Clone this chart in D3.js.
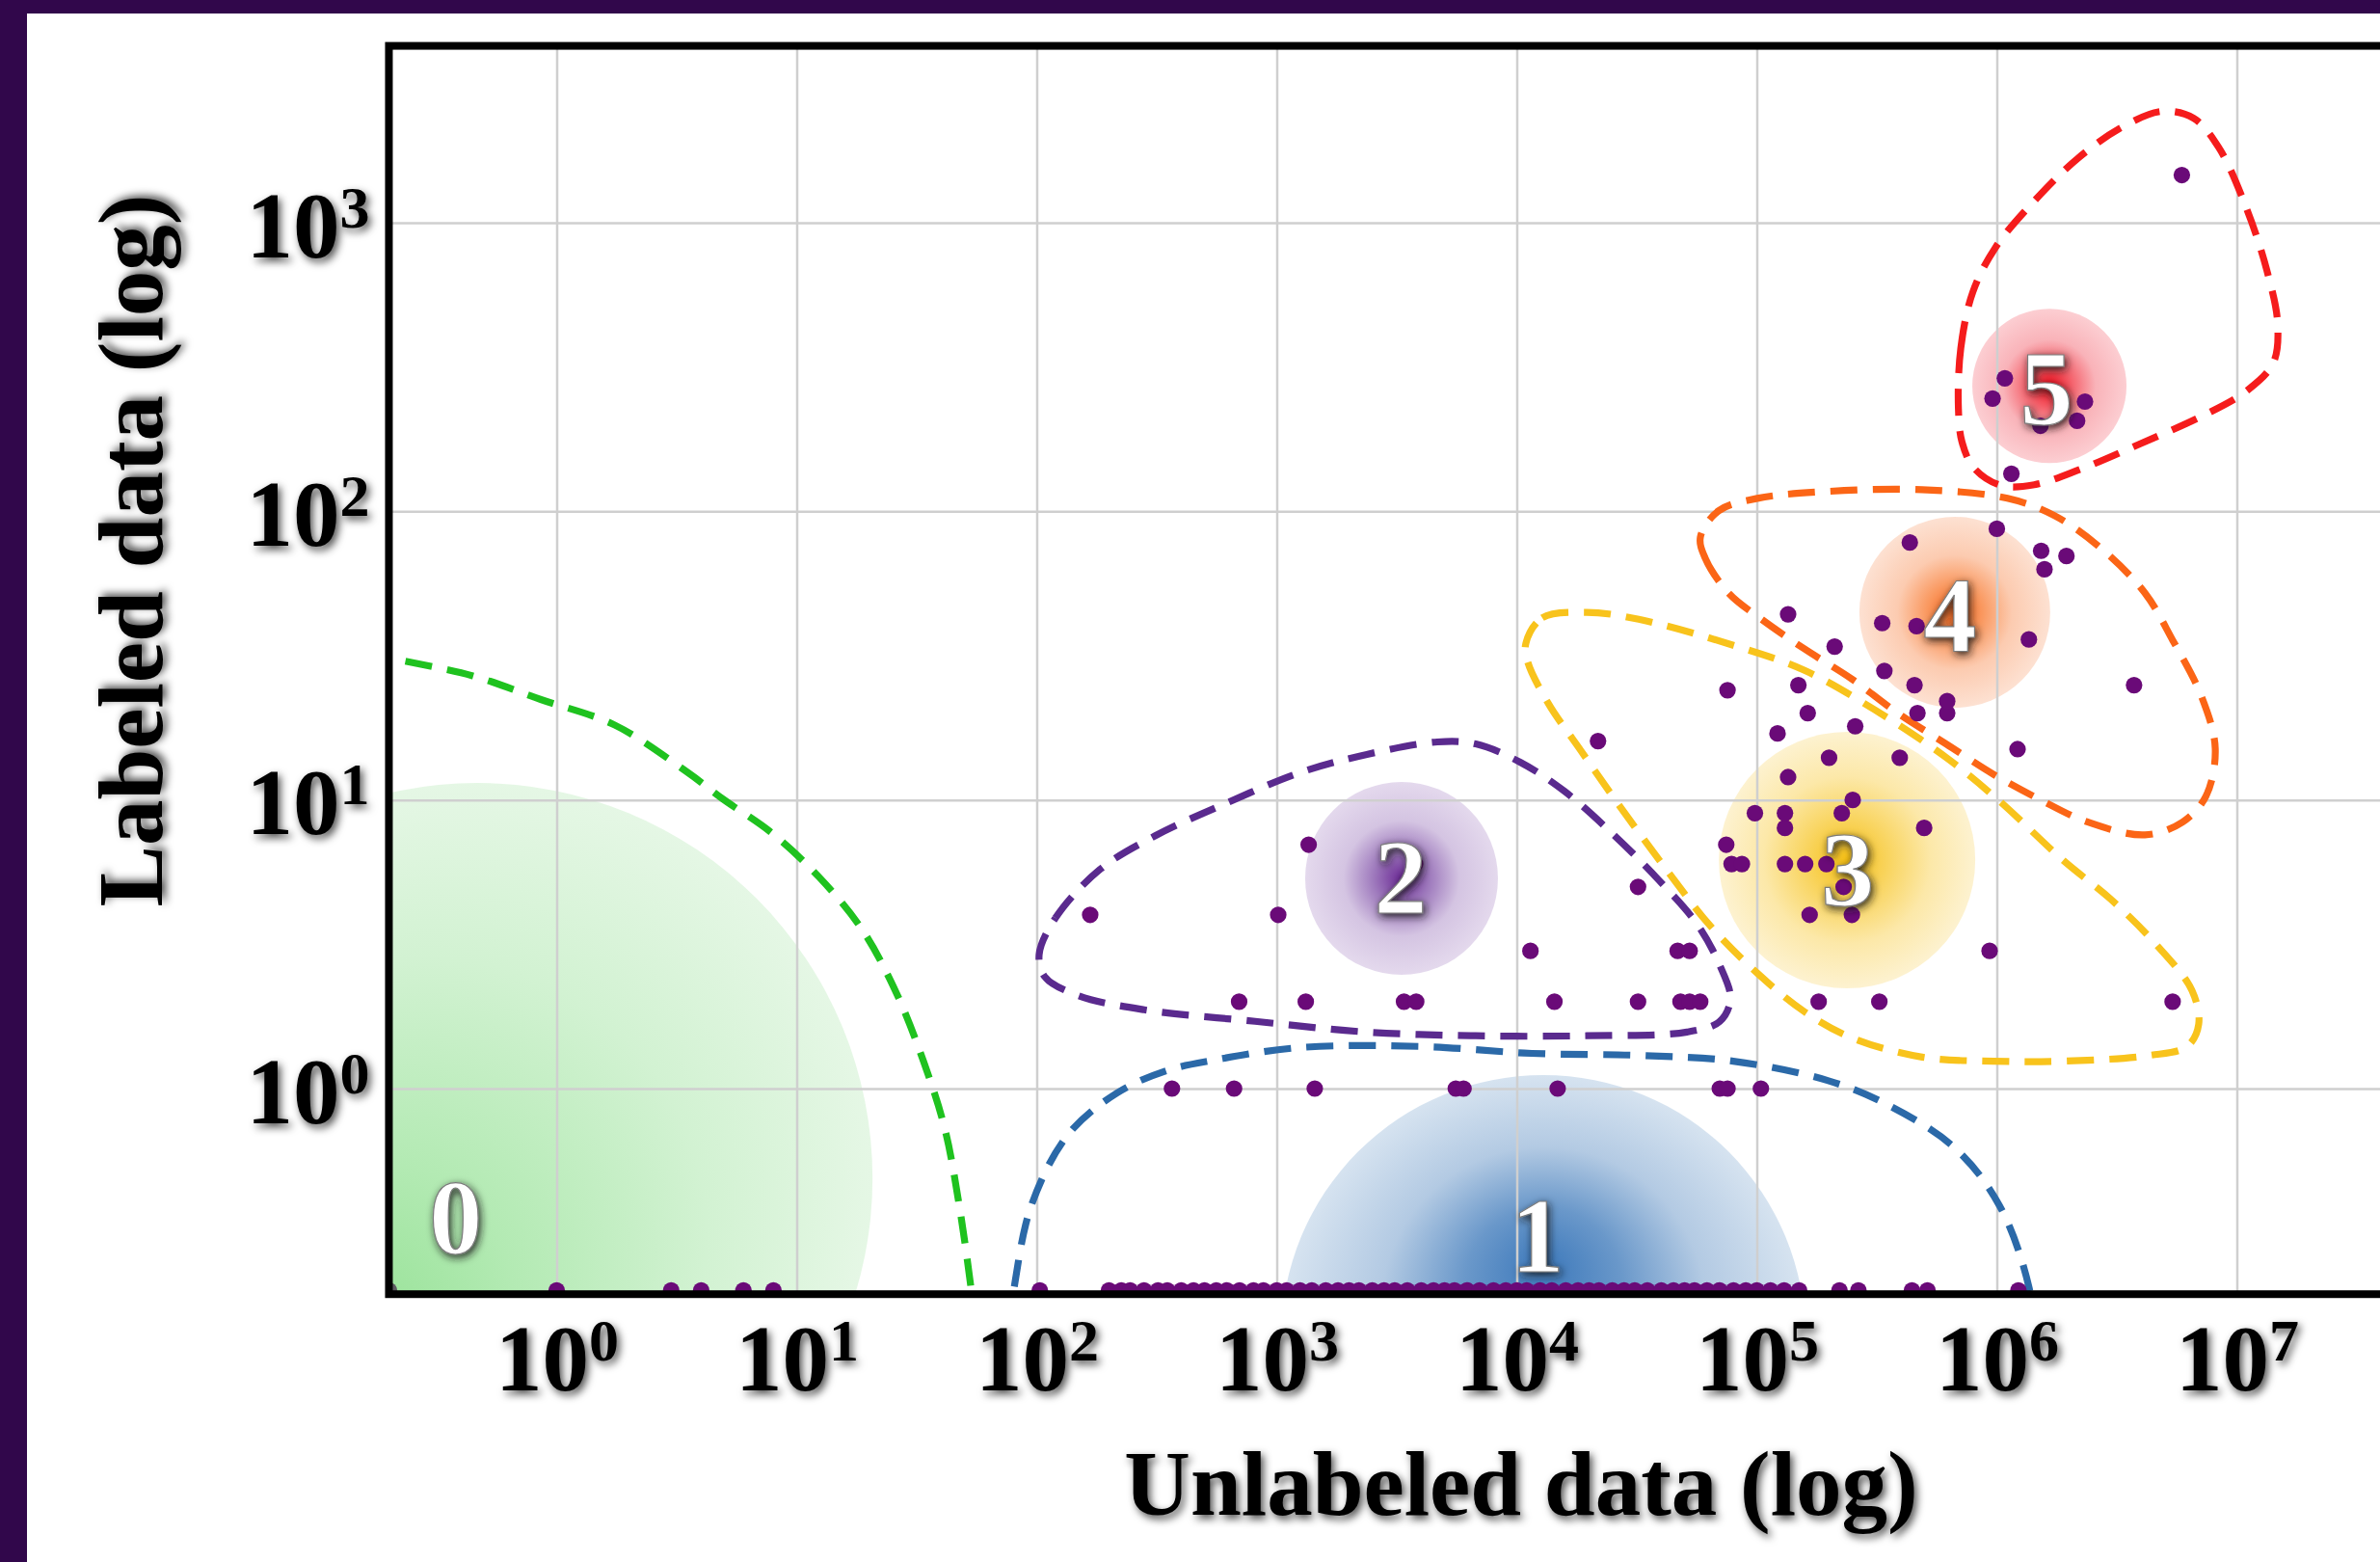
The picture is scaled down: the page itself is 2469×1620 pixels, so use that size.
<!DOCTYPE html>
<html><head><meta charset="utf-8">
<script src="https://cdn.jsdelivr.net/npm/d3@7"></script>
<style>
html,body{margin:0;padding:0;background:#31074b;overflow:hidden;}
svg{display:block;}
</style></head><body>
<svg id="chart" width="2469" height="1620"></svg>
<script>
// ---------------- DATA ----------------
const xTickValues = [1, 10, 100, 1e3, 1e4, 1e5, 1e6, 1e7];
const yTickValues = [1, 10, 100, 1000];
const xAxisTitle = "Unlabeled data (log)";
const yAxisTitle = "Labeled data (log)";

// datasets with no labeled data (drawn on the lower axis)
const unlabeledNoLabels = [0, 1, 3, 4, 6, 8, 103,
  200, 225, 245, 280, 320, 350, 400, 450, 500, 560, 620, 700, 800, 880, 1000, 1100, 1250, 1400,
  1600, 1800, 2000, 2200, 2500, 2800, 3100, 3500, 4000, 4500, 5000, 5500, 6200, 7000, 8000, 9000,
  10000, 11000, 12500, 14000, 16000, 18000, 20000, 22000, 25000, 28000, 31000, 35000, 40000, 45000,
  50000, 55000, 62000, 70000, 80000, 90000, 100000, 114000, 130000, 150000, 221000, 265000,
  443000, 514000, 1230000];

// datasets with labeled data: unlabeled count / labeled count
const datasetUnlabeled = [
  366, 664, 1440, 5570, 6000, 14800, 70100, 75500, 104000,
  697, 1321, 3390, 3810, 14350, 32000, 48100, 52500, 58100, 181000, 324000, 5400000,
  11400, 46800, 52500, 933000,
  167, 1014, 166000, 249000,
  32000, 230000,
  3770, 78500, 86700, 131000, 159000, 195000,
  1358, 74600,
  131000, 498000,
  98200, 131000, 226000,
  251000, 135000, 200000, 394000, 1220000, 21800, 122000, 257000,
  163000, 467000, 621000, 621000, 75500, 149000, 454000, 3730000,
  340000, 211000, 1360000, 463000, 333000, 135000,
  1580000, 1950000, 1530000, 434000, 1000000,
  1150000, 1520000, 2160000, 2330000, 960000, 1080000, 5900000];
const datasetLabeled = [
  1, 1, 1, 1, 1, 1, 1, 1, 1,
  2, 2, 2, 2, 2, 2, 2, 2, 2, 2, 2, 2,
  3, 3, 3, 3,
  4, 4, 4, 4,
  5, 5,
  6, 6, 6, 6, 6, 6,
  7, 7,
  8, 8,
  9, 9, 9,
  10, 12, 14, 14, 15, 16, 17, 18,
  20, 20, 20, 22, 24, 25, 25, 25,
  28, 34, 36, 40, 41, 44,
  63, 70, 73, 78, 87,
  135, 198, 206, 240, 246, 289, 1463];

// clusters
const clusterIds = ["0", "1", "2", "3", "4", "5"];
const clusterCenterX = [0.467, 12900, 3311, 237700, 668000, 1656000];
const clusterCenterY = [0.489, 0.1375, 5.35, 6.19, 44.7, 272];
const clusterLabelX = [0.38, 12190, 3281, 239000, 638000, 1610000];
const clusterLabelY = [0.357, 0.308, 5.39, 5.73, 43.7, 266];

// cluster boundaries as [log10(unlabeled), log10(labeled)]
const boundary0 = [[-0.80, 1.52], [-0.69, 1.492], [-0.35, 1.43], [-0.066, 1.348], [0.243, 1.259], [0.548, 1.094],
  [0.693, 1.003], [0.894, 0.887], [1.094, 0.732], [1.275, 0.548], [1.416, 0.330], [1.528, 0.095],
  [1.617, -0.139], [1.677, -0.404], [1.729, -0.709], [1.757, -0.91]];
const boundary1 = [[1.857, -0.977], [1.902, -0.709], [1.978, -0.404], [2.131, -0.159], [2.335, -0.015],
  [2.540, 0.062], [2.741, 0.099], [3.094, 0.142], [3.600, 0.146], [4.062, 0.122], [4.508, 0.115],
  [4.902, 0.095], [5.295, 0.028], [5.528, -0.049], [5.821, -0.203], [6.010, -0.404], [6.135, -0.692],
  [6.175, -0.977]];
const boundary2 = [[2.010, 0.464], [2.078, 0.591], [2.263, 0.759], [2.494, 0.876], [2.793, 0.990],
  [3.094, 1.094], [3.371, 1.157], [3.669, 1.201], [3.829, 1.194], [4.014, 1.131], [4.199, 1.030],
  [4.408, 0.876], [4.592, 0.722], [4.753, 0.568], [4.846, 0.427], [4.890, 0.310], [4.846, 0.233],
  [4.709, 0.196], [4.291, 0.183], [3.829, 0.183], [3.371, 0.196], [2.910, 0.233], [2.448, 0.273],
  [2.171, 0.323], [2.034, 0.387]];
const boundary3 = [[4.038, 1.543], [4.106, 1.631], [4.291, 1.650], [4.508, 1.626], [4.902, 1.536],
  [5.199, 1.449], [5.492, 1.312], [5.789, 1.147], [6.006, 1.000], [6.279, 0.789], [6.476, 0.655],
  [6.673, 0.491], [6.813, 0.340], [6.841, 0.223], [6.793, 0.146], [6.637, 0.115], [6.279, 0.095],
  [5.986, 0.095], [5.689, 0.109], [5.396, 0.176], [5.199, 0.266], [5.002, 0.400], [4.805, 0.565],
  [4.608, 0.776], [4.408, 1.003], [4.267, 1.171], [4.131, 1.335], [4.045, 1.480]];
const boundary4 = [[4.765, 1.911], [4.785, 1.838], [4.882, 1.717], [5.020, 1.626], [5.199, 1.523],
  [5.396, 1.419], [5.592, 1.298], [5.789, 1.194], [5.986, 1.089], [6.183, 1.000], [6.380, 0.923],
  [6.617, 0.879], [6.773, 0.923], [6.871, 1.013], [6.910, 1.178], [6.853, 1.358], [6.733, 1.553],
  [6.617, 1.717], [6.440, 1.868], [6.241, 1.985], [6.044, 2.045], [5.689, 2.075], [5.295, 2.069],
  [5.002, 2.045], [4.841, 2.002]];
const boundary5 = [[5.840, 2.356], [5.850, 2.566], [5.900, 2.760], [5.995, 2.915], [6.150, 3.070],
  [6.340, 3.225], [6.530, 3.335], [6.690, 3.386], [6.820, 3.362], [6.925, 3.260], [7.040, 3.050],
  [7.125, 2.835], [7.170, 2.650], [7.152, 2.515], [7.045, 2.420], [6.855, 2.330], [6.600, 2.235],
  [6.346, 2.145], [6.156, 2.092], [6.017, 2.090], [5.905, 2.150], [5.855, 2.240]];

// ---------------- STYLE / LAYOUT ----------------
const W = 2469, H = 1620;
const clusterColors = ["#1fc21f", "#2b69a8", "#5a2a8e", "#f8c31c", "#fb6516", "#f51c1c"];
const blobRadiusPx = [410, 272, 100, 133, 99, 80];
const blobFocus = [[0.30, 0.74], [0.5, 0.36], [0.5, 0.5], [0.5, 0.5], [0.5, 0.5], [0.5, 0.5]];
const blobStops = [
  [["0", "#8ddf8d"], ["0.35", "#b3eab3"], ["0.7", "#d2f2d2"], ["1", "#e5f7e5"]],
  [["0", "#3d79bb"], ["0.3", "#6a98ca"], ["0.62", "#b3cae3"], ["1", "#d6e3f0"]],
  [["0", "#6c2b96"], ["0.3", "#a07cbe"], ["0.6", "#d4c4e2"], ["1", "#e4d9ed"]],
  [["0", "#f6c015"], ["0.35", "#f9d665"], ["0.65", "#fce8a8"], ["1", "#fdf2d0"]],
  [["0", "#f8651a"], ["0.3", "#fa9a62"], ["0.6", "#fccbb0"], ["1", "#fde1d2"]],
  [["0", "#ef0d1c"], ["0.3", "#f5646e"], ["0.6", "#f9b3b9"], ["1", "#fcced2"]]
];
const pointColor = "#6a0a78";
const pointR = 8.6;
const serif = "'Liberation Serif','Times New Roman',Times,serif";

const x = d3.scaleLog().domain([1, 1e7]).range([577.5, 2320.5]);
const y = d3.scaleLog().domain([1, 1000]).range([1129, 231]);
const xMin = 0.2, yMin = 0.2, yMax = 4100;
const plotLeft = x(xMin), plotBottom = y(yMin), plotTop = y(yMax);
const frameBottom = plotBottom + 4;
const px = v => x(Math.max(v, xMin));
const py = v => y(Math.max(v, yMin));

const svg = d3.select("#chart");
const defs = svg.append("defs");

// text shadow filters
const f1 = defs.append("filter").attr("id", "tshadow").attr("x", "-20%").attr("y", "-30%").attr("width", "140%").attr("height", "160%");
f1.append("feGaussianBlur").attr("in", "SourceAlpha").attr("stdDeviation", 4).attr("result", "blur");
f1.append("feOffset").attr("in", "blur").attr("dx", 3).attr("dy", 4).attr("result", "off");
f1.append("feFlood").attr("flood-color", "#000").attr("flood-opacity", 0.7).attr("result", "col");
f1.append("feComposite").attr("in", "col").attr("in2", "off").attr("operator", "in").attr("result", "sh");
const m1 = f1.append("feMerge"); m1.append("feMergeNode").attr("in", "sh"); m1.append("feMergeNode").attr("in", "SourceGraphic");

const f2 = defs.append("filter").attr("id", "lshadow").attr("x", "-50%").attr("y", "-50%").attr("width", "200%").attr("height", "200%");
f2.append("feGaussianBlur").attr("in", "SourceAlpha").attr("stdDeviation", 4).attr("result", "blur");
f2.append("feOffset").attr("in", "blur").attr("dx", 2).attr("dy", 3).attr("result", "off");
f2.append("feFlood").attr("flood-color", "#1a1a1a").attr("flood-opacity", 0.9).attr("result", "col");
f2.append("feComposite").attr("in", "col").attr("in2", "off").attr("operator", "in").attr("result", "sh");
const m2 = f2.append("feMerge"); m2.append("feMergeNode").attr("in", "sh"); m2.append("feMergeNode").attr("in", "SourceGraphic");

// gradients
clusterIds.forEach((id, i) => {
  const g = defs.append("radialGradient").attr("id", "grad" + i)
    .attr("cx", 0.5).attr("cy", 0.5).attr("r", 0.5)
    .attr("fx", blobFocus[i][0]).attr("fy", blobFocus[i][1]);
  blobStops[i].forEach(s => g.append("stop").attr("offset", s[0]).attr("stop-color", s[1]));
});

defs.append("clipPath").attr("id", "plotClip").append("rect")
  .attr("x", plotLeft).attr("y", plotTop).attr("width", W - plotLeft + 10).attr("height", frameBottom - plotTop);

// background panel
svg.append("rect").attr("x", 0).attr("y", 0).attr("width", W).attr("height", H).attr("fill", "#31074b");
svg.append("rect").attr("x", 28).attr("y", 14).attr("width", W - 28).attr("height", H - 14).attr("fill", "#ffffff");

const plot = svg.append("g").attr("clip-path", "url(#plotClip)");

// blobs
plot.append("g").selectAll("circle").data(clusterIds).join("circle")
  .attr("cx", (d, i) => x(clusterCenterX[i]))
  .attr("cy", (d, i) => y(clusterCenterY[i]))
  .attr("r", (d, i) => blobRadiusPx[i])
  .attr("fill", (d, i) => `url(#grad${i})`);

// grid
const gridX = d3.axisBottom(x).tickValues(xTickValues).tickSize(-(frameBottom - plotTop)).tickFormat("");
const gxg = plot.append("g").attr("transform", `translate(0,${frameBottom})`).call(gridX);
gxg.select(".domain").remove();
gxg.selectAll("line").attr("stroke", "#cfcfcf").attr("stroke-width", 2.5);
const gridY = d3.axisLeft(y).tickValues(yTickValues).tickSize(-(W - plotLeft)).tickFormat("");
const gyg = plot.append("g").attr("transform", `translate(${plotLeft},0)`).call(gridY);
gyg.select(".domain").remove();
gyg.selectAll("line").attr("stroke", "#cfcfcf").attr("stroke-width", 2.5);

// boundaries
const lineOpen = d3.line().x(d => x(Math.pow(10, d[0]))).y(d => y(Math.pow(10, d[1]))).curve(d3.curveCatmullRom.alpha(0.5));
const lineClosed = d3.line().x(d => x(Math.pow(10, d[0]))).y(d => y(Math.pow(10, d[1]))).curve(d3.curveCatmullRomClosed.alpha(0.5));
const boundaries = [boundary0, boundary1, boundary2, boundary3, boundary4, boundary5];
boundaries.forEach((b, i) => {
  plot.append("path").attr("d", i < 2 ? lineOpen(b) : lineClosed(b))
    .attr("fill", "none").attr("stroke", clusterColors[i]).attr("stroke-width", 7.2)
    .attr("stroke-dasharray", "28 16").attr("stroke-linecap", "butt");
});

// points
const pts = plot.append("g");
pts.selectAll("circle.z").data(unlabeledNoLabels).join("circle").attr("class", "z")
  .attr("cx", d => px(d)).attr("cy", py(0)).attr("r", pointR)
  .attr("fill", (d) => d === 0 ? "#5e5a62" : pointColor);
pts.selectAll("circle.p").data(datasetUnlabeled).join("circle").attr("class", "p")
  .attr("cx", d => px(d)).attr("cy", (d, i) => py(datasetLabeled[i])).attr("r", pointR)
  .attr("fill", pointColor);

// cluster labels
plot.append("g").selectAll("text").data(clusterIds).join("text")
  .attr("x", (d, i) => x(clusterLabelX[i]))
  .attr("y", (d, i) => y(clusterLabelY[i]) + 37)
  .attr("text-anchor", "middle")
  .attr("font-family", serif).attr("font-weight", "bold").attr("font-size", 110)
  .attr("fill", "#ffffff").attr("stroke", "#7a7a7a").attr("stroke-width", 1.2)
  .attr("filter", "url(#lshadow)")
  .text(d => d);

// frame
svg.append("rect").attr("x", plotLeft).attr("y", plotTop).attr("width", W - plotLeft + 40).attr("height", frameBottom - plotTop)
  .attr("fill", "none").attr("stroke", "#000").attr("stroke-width", 8);

// axis tick labels
function powLabel(sel) {
  sel.append("tspan").text("10");
  sel.append("tspan").attr("font-size", 62).attr("dy", -31).text(d => Math.round(Math.log10(d)));
}
const xa = svg.append("g").attr("transform", `translate(0,${plotBottom})`)
  .call(d3.axisBottom(x).tickValues(xTickValues).tickSize(0).tickFormat(""));
xa.select(".domain").remove();
xa.selectAll(".tick").append("text")
  .attr("x", 0).attr("y", 104).attr("text-anchor", "middle")
  .attr("font-family", serif).attr("font-weight", "bold").attr("font-size", 97).attr("fill", "#000")
  .attr("filter", "url(#tshadow)")
  .call(powLabel);

const ya = svg.append("g").attr("transform", `translate(${plotLeft},0)`)
  .call(d3.axisLeft(y).tickValues(yTickValues).tickSize(0).tickFormat(""));
ya.select(".domain").remove();
ya.selectAll(".tick").append("text")
  .attr("x", -20).attr("y", 35).attr("text-anchor", "end")
  .attr("font-family", serif).attr("font-weight", "bold").attr("font-size", 97).attr("fill", "#000")
  .attr("filter", "url(#tshadow)")
  .call(powLabel);

// axis titles
svg.append("text").attr("x", 1578).attr("y", 1571).attr("text-anchor", "middle")
  .attr("font-family", serif).attr("font-weight", "bold").attr("font-size", 95).attr("fill", "#000")
  .attr("filter", "url(#tshadow)").text(xAxisTitle);
svg.append("text").attr("transform", "translate(168,571) rotate(-90)").attr("text-anchor", "middle")
  .attr("font-family", serif).attr("font-weight", "bold").attr("font-size", 95).attr("fill", "#000")
  .attr("filter", "url(#tshadow)").text(yAxisTitle);
</script>
</body></html>
